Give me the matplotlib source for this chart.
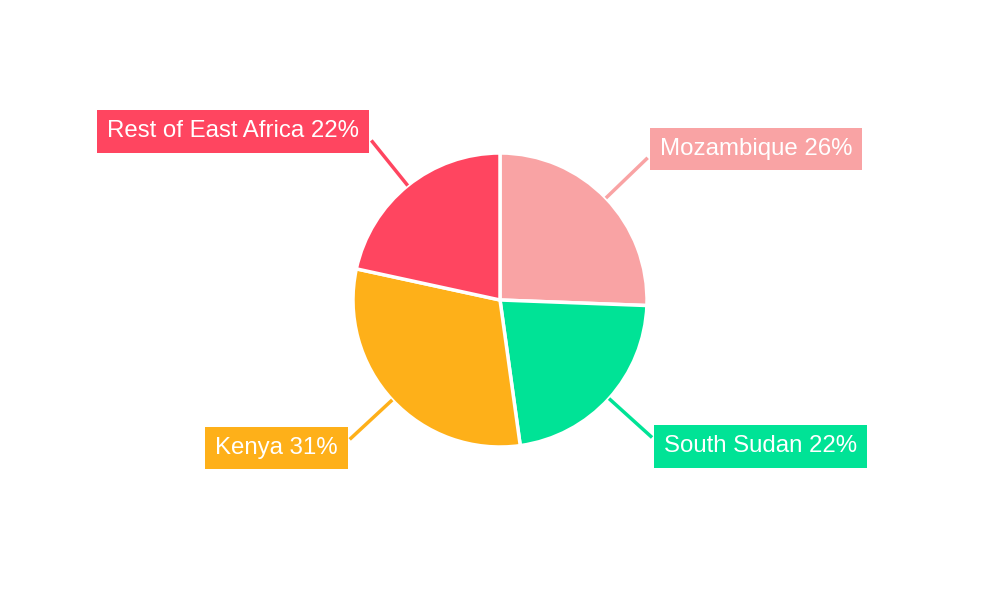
import numpy as np
import matplotlib.pyplot as plt

plt.rcParams['font.family'] = ['Liberation Sans', 'DejaVu Sans']

regions = ['Mozambique', 'South Sudan', 'Kenya', 'Rest of East Africa']
shares = [25.6, 22.2, 30.6, 21.6]
colors = ['#F9A3A4', '#00E396', '#FEB019', '#FF4560']

fig = plt.figure(figsize=(10, 6), dpi=100)
ax = fig.add_axes([0, 0, 1, 1])

r = 147
cx, cy = 500, 300
wedges, _ = ax.pie(shares, colors=colors, startangle=90, counterclock=False,
                   radius=r, center=(cx, cy),
                   wedgeprops=dict(edgecolor='white', linewidth=2.5))
ax.set_xlim(0, 1000)
ax.set_ylim(0, 600)
ax.set_aspect('equal')
ax.axis('off')

for w, name, val, c in zip(wedges, regions, shares, colors):
    ang = np.deg2rad((w.theta1 + w.theta2) / 2)
    dx, dy = np.cos(ang), np.sin(ang)
    x0, y0 = cx + r * dx, cy + r * dy
    x1, y1 = cx + (r + 58) * dx, cy + (r + 58) * dy
    ax.plot([x0, x1], [y0, y1], color=c, lw=2.5, solid_capstyle='butt')
    side = 1 if dx > 0 else -1
    ax.text(x1 + side * 12, y1 + np.sign(dy) * 9, f'{name} {round(val)}%',
            ha='left' if side > 0 else 'right', va='center',
            fontsize=17.3, color='white',
            bbox=dict(boxstyle='square,pad=0.42', fc=c, ec='none'))

plt.savefig('out.png', dpi=100)
